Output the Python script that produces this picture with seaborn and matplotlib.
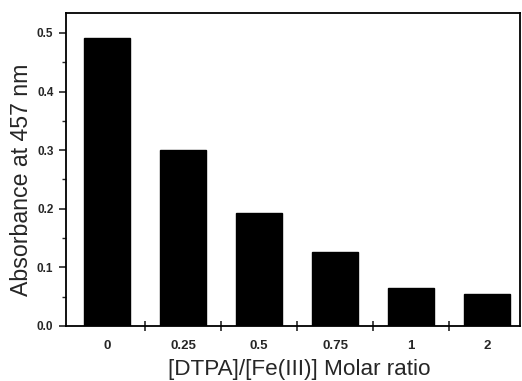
import matplotlib
matplotlib.use("Agg")
import matplotlib.pyplot as plt
import seaborn as sns
import pandas as pd
import numpy as np
from matplotlib.ticker import MultipleLocator, FixedLocator

categories = ["0", "0.25", "0.5", "0.75", "1", "2"]
absorbance = [0.492, 0.301, 0.193, 0.127, 0.064, 0.055]
yticks = [0.0, 0.1, 0.2, 0.3, 0.4, 0.5]
ytick_labels = ["0.0", "0.1", "0.2", "0.3", "0.4", "0.5"]

df = pd.DataFrame({"ratio": categories, "abs": absorbance})

sns.set_style("ticks")
plt.rcParams['font.family'] = ['Liberation Sans', 'DejaVu Sans']

fig = plt.figure(figsize=(5.22, 3.81), dpi=100)
ax = fig.add_axes([0.1264, 0.1444, 0.996 - 0.1264, 0.9659 - 0.1444])

sns.barplot(data=df, x="ratio", y="abs", color="black", width=0.6,
            saturation=1, ax=ax, edgecolor="black")

ax.set_xlim(-0.54, 5.43)
ax.set_ylim(0, 0.534)
ax.set_yticks(yticks)
ax.set_yticklabels(ytick_labels, fontweight="bold", fontsize=8.5)
ax.yaxis.set_minor_locator(MultipleLocator(0.05))
ax.set_xticks(range(len(categories)))
ax.set_xticklabels(categories, fontweight="bold", fontsize=9.5)
ax.xaxis.set_minor_locator(FixedLocator([0.5, 1.5, 2.5, 3.5, 4.5]))

ax.tick_params(axis="x", which="major", length=0, pad=10)
ax.tick_params(axis="x", which="minor", length=7, direction="inout", width=1.2)
ax.tick_params(axis="y", which="major", length=5, direction="out", width=1.2, pad=4)
ax.tick_params(axis="y", which="minor", length=3, direction="out", width=1.0)

for s in ax.spines.values():
    s.set_visible(True)
    s.set_linewidth(1.3)
    s.set_color("black")

ax.set_xlabel("[DTPA]/[Fe(III)] Molar ratio", fontsize=16.2, va="center")
ax.set_ylabel("Absorbance at 457 nm", fontsize=16.7, va="center")
ax.xaxis.set_label_coords(0.515, -0.138)
ax.yaxis.set_label_coords(-0.097, 0.466)

fig.savefig("out.png", dpi=100)
